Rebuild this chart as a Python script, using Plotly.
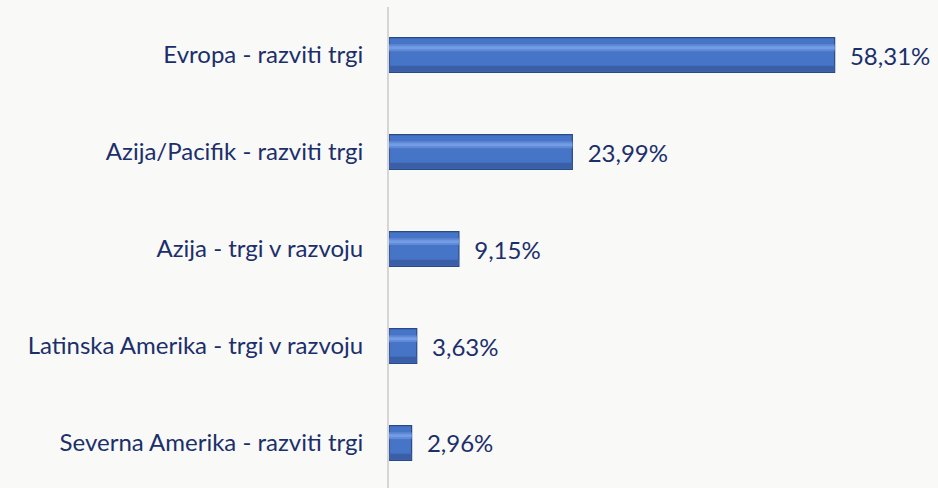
import plotly.graph_objects as go

categories = ["Severna Amerika - razviti trgi", "Latinska Amerika - trgi v razvoju",
              "Azija - trgi v razvoju", "Azija/Pacifik - razviti trgi", "Evropa - razviti trgi"]
values = [2.96, 3.63, 9.15, 23.99, 58.31]
labels = ["2,96%", "3,63%", "9,15%", "23,99%", "58,31%"]

navy = "#1B2F6B"
fnt = "Lato, Liberation Sans, sans-serif"
fig = go.Figure()
# main bar body
fig.add_trace(go.Bar(
    y=categories, x=values, orientation="h", width=0.36,
    marker=dict(color="#4674C6", line=dict(color="#2A4A86", width=1.2)),
    text=["  " + t for t in labels], textposition="outside", cliponaxis=False,
    textfont=dict(family=fnt, size=24, color=navy),
    hoverinfo="skip"))
# bevel: darker lower band
fig.add_trace(go.Bar(
    y=categories, x=values, orientation="h", width=0.06, offset=-0.17,
    marker=dict(color="#3A5FA6", line=dict(width=0)), hoverinfo="skip"))
# bevel: light highlight stripe
fig.add_trace(go.Bar(
    y=categories, x=values, orientation="h", width=0.07, offset=0.04,
    marker=dict(color="#5F89D6", line=dict(width=0)), hoverinfo="skip"))
fig.add_trace(go.Bar(
    y=categories, x=values, orientation="h", width=0.03, offset=0.06,
    marker=dict(color="#729CE3", line=dict(width=0)), hoverinfo="skip"))

fig.update_layout(
    width=938, height=488, barmode="overlay", showlegend=False,
    margin=dict(l=389, r=14, t=7, b=0),
    paper_bgcolor="#F9F9F8", plot_bgcolor="rgba(0,0,0,0)",
    font=dict(family=fnt, size=24, color=navy),
    xaxis=dict(range=[0, 70], visible=False, fixedrange=True),
    yaxis=dict(type="category", categoryorder="array", categoryarray=categories,
               range=[-0.464, 4.495], showline=True, linecolor="#D6D6D6", linewidth=2,
               showgrid=False, zeroline=False, ticks="", ticklabelstandoff=19,
               tickfont=dict(family=fnt, size=24, color=navy)),
)
fig.write_html("out.html")
